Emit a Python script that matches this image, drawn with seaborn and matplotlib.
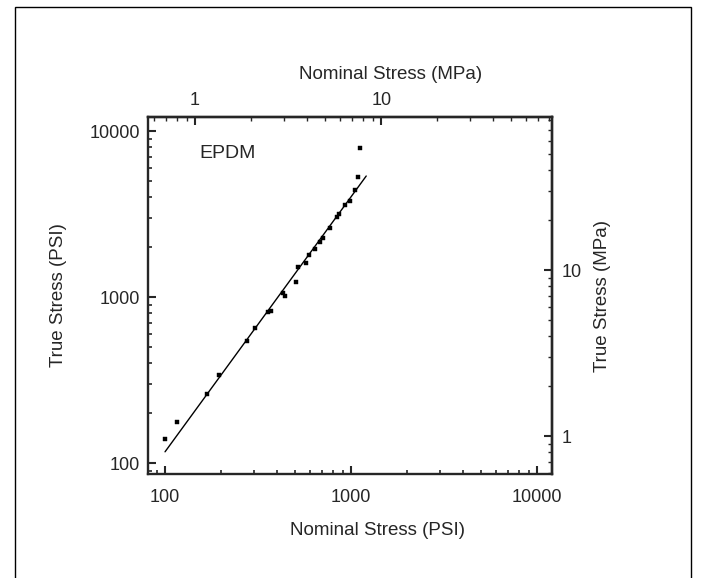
import matplotlib
matplotlib.use("Agg")
import matplotlib.pyplot as plt
from matplotlib.patches import Rectangle
from matplotlib.ticker import FuncFormatter, LogLocator, NullFormatter, FixedLocator
import seaborn as sns
import pandas as pd
import numpy as np

# data (PSI)
nominal_psi = [100, 116, 168, 196, 275, 306, 357, 372, 433, 440, 506, 519, 573,
               597, 640, 681, 710, 771, 844, 865, 928, 988, 1052, 1082, 1117]
true_psi = [139, 176, 259, 339, 543, 647, 815, 824, 1052, 1014, 1236, 1510, 1597,
            1790, 1937, 2152, 2276, 2593, 3020, 3163, 3580, 3803, 4415, 5311, 7870]

# straight fitted line on the log-log plot
fit_x = [100, 1205]
fit_y = [117, 5360]

psi_ticks = [100, 1000, 10000]
mpa_ticks = [1, 10]

PSI_PER_MPA = 145.038

df = pd.DataFrame({'nominal': nominal_psi, 'true': true_psi})
fit = pd.DataFrame({'nominal': fit_x, 'true': fit_y})

sns.set_style("ticks")
plt.rcParams['font.family'] = ['Liberation Sans', 'DejaVu Sans']
plt.rcParams['font.size'] = 13

fig = plt.figure(figsize=(7.03, 5.78), dpi=100)
ax = fig.add_axes([148/703, 1-474/578, 404/703, 357/578])

sns.lineplot(data=fit, x='nominal', y='true', ax=ax, color='black', lw=1.0)
sns.scatterplot(data=df, x='nominal', y='true', ax=ax, color='black',
                marker='s', s=7, edgecolor='black', linewidth=0.3)

ax.set_xscale('log')
ax.set_yscale('log')
ax.set_xlim(81, 12000)
ax.set_ylim(86, 12150)

fmt = FuncFormatter(lambda v, p: f"{v:g}")
ax.xaxis.set_major_locator(FixedLocator(psi_ticks))
ax.yaxis.set_major_locator(FixedLocator(psi_ticks))
ax.xaxis.set_major_formatter(fmt)
ax.yaxis.set_major_formatter(fmt)
ax.xaxis.set_minor_formatter(NullFormatter())
ax.yaxis.set_minor_formatter(NullFormatter())

for sp in ax.spines.values():
    sp.set_linewidth(1.7)
    sp.set_visible(True)

ax.tick_params(which='major', direction='in', length=6, width=1.5, labelsize=13)
ax.tick_params(which='minor', direction='in', length=3, width=1.2)
ax.tick_params(axis='x', pad=11)
ax.tick_params(axis='y', pad=6)

ax.set_xlabel('Nominal Stress (PSI)', fontsize=13.5)
ax.set_ylabel('True Stress (PSI)', fontsize=13.5)
ax.xaxis.set_label_coords(0.567, -0.134)
ax.yaxis.set_label_coords(-0.20, 0.5)

# MPa scales on top and right
to_mpa = (lambda v: v / PSI_PER_MPA, lambda v: v * PSI_PER_MPA)
top = ax.secondary_xaxis('top', functions=to_mpa)
right = ax.secondary_yaxis('right', functions=to_mpa)
for sec, axis in ((top, top.xaxis), (right, right.yaxis)):
    axis.set_major_locator(FixedLocator(mpa_ticks))
    axis.set_minor_locator(LogLocator(base=10, subs=np.arange(2, 10)))
    axis.set_major_formatter(fmt)
    axis.set_minor_formatter(NullFormatter())
    sec.tick_params(which='major', direction='in', length=6, width=1.5, labelsize=13)
    sec.tick_params(which='minor', direction='in', length=3, width=1.0)
    for sp in sec.spines.values():
        sp.set_linewidth(1.7)
top.tick_params(pad=6)
right.tick_params(pad=7)

# axis titles for the MPa scales (placed in parent axes coordinates)
ax.text(0.60, 1.118, 'Nominal Stress (MPa)', transform=ax.transAxes,
        fontsize=13.5, ha='center', va='center')
ax.text(1.126, 0.5, 'True Stress (MPa)', transform=ax.transAxes,
        fontsize=13.5, ha='center', va='center', rotation=90)

ax.text(0.126, 0.899, 'EPDM', transform=ax.transAxes, fontsize=14,
        ha='left', va='center')

# scan frame around the whole figure
fig.add_artist(Rectangle((15/703, -0.05), (691-15)/703, 1.05 - 7/578,
                         transform=fig.transFigure, fill=False,
                         lw=1.0, edgecolor='black'))

fig.savefig('out.png', dpi=100)
